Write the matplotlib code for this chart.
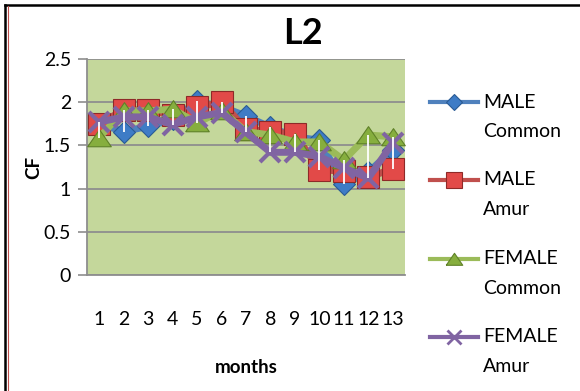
import matplotlib.pyplot as plt
from matplotlib.lines import Line2D
import numpy as np

plt.rcParams['font.family'] = ['Lato', 'DejaVu Sans']

# values
months = list(range(1, 14))
male_common = [1.75, 1.66, 1.72, 1.80, 2.01, 1.95, 1.84, 1.71, 1.60, 1.56, 1.05, 1.19, 1.45]
male_amur = [1.75, 1.91, 1.91, 1.85, 1.94, 2.00, 1.69, 1.66, 1.63, 1.22, 1.20, 1.13, 1.23]
female_common = [1.59, 1.90, 1.90, 1.92, 1.76, 1.90, 1.66, 1.62, 1.54, 1.54, 1.33, 1.62, 1.60]
female_amur = [1.77, 1.83, 1.83, 1.74, 1.83, 1.88, 1.65, 1.42, 1.42, 1.37, 1.24, 1.12, 1.53]

labels = [('MALE', 'Common'), ('MALE', 'Amur'), ('FEMALE', 'Common'), ('FEMALE', 'Amur')]
yticks = [0, 0.5, 1, 1.5, 2, 2.5]
ytick_labels = ['0', '0.5', '1', '1.5', '2', '2.5']

tri = [(-1, -0.7), (1, -0.7), (0, 0.75), (-1, -0.7)]
styles = [
    dict(color='#4F81BD', marker='D', ms=11, mfc='#3E7CC6', mec='#2A5B94', mew=0.8),
    dict(color='#C0504D', marker='s', ms=16, mfc='#E24A48', mec='#8E2A28', mew=0.8),
    dict(color='#9BBB59', marker=tri, ms=17, mfc='#86AE3E', mec='#5F8128', mew=0.8),
    dict(color='#8064A2', marker='x', ms=15, mfc='#8064A2', mec='#8064A2', mew=3),
]
series = [male_common, male_amur, female_common, female_amur]

fig = plt.figure(figsize=(5.8, 3.91), dpi=100)
ax = fig.add_axes([87 / 580, 1 - 275 / 391, (405 - 87) / 580, (275 - 59) / 391])
ax.set_facecolor('#C4D79B')

for i, (vals, st) in enumerate(zip(series, styles)):
    ax.plot(months, vals, lw=5, solid_capstyle='round', zorder=3 + i, **st)

# white high-low lines
data = np.array(series)
ax.vlines(months, data.min(axis=0), data.max(axis=0), color='white', lw=1.3, zorder=10)

ax.set_xlim(0.5, 13.5)
ax.set_ylim(0, 2.5)
ax.set_yticks(yticks)
ax.set_yticklabels(ytick_labels)
ax.set_xticks(months)
ax.set_xticklabels([str(m) for m in months])
ax.yaxis.grid(True, color='#8E8E8E', lw=1.3)
ax.set_axisbelow(True)
ax.tick_params(axis='y', length=6.5, width=1.2, color='#8E8E8E', labelsize=14, pad=5)
ax.tick_params(axis='x', length=0, labelsize=14, pad=26)
for s in ['top', 'right']:
    ax.spines[s].set_visible(False)
for s in ['left', 'bottom']:
    ax.spines[s].set_color('#8E8E8E')
    ax.spines[s].set_linewidth(1.3)

ax.set_xlabel('months', fontsize=13.5, fontweight='bold', labelpad=22)
ax.set_ylabel('CF', fontsize=13.5, fontweight='bold', labelpad=1)
fig.text(303 / 580, 1 - 34 / 391, 'L2', fontsize=26, fontweight='bold', ha='center', va='center')

# legend, handle next to the first line of each label
leg_y = [102, 180, 259, 337]
for (l1, l2), st, y in zip(labels, styles, leg_y):
    mk = {k: v for k, v in st.items() if k != 'color'}
    mk['ms'] = st['ms'] * 0.7
    if st['marker'] == 'x':
        mk['mew'] = 2
    yf = 1 - y / 391
    fig.add_artist(Line2D([430 / 580, 478 / 580], [yf, yf], lw=3,
                          color=st['color'], transform=fig.transFigure))
    fig.add_artist(Line2D([454 / 580], [yf], lw=0, transform=fig.transFigure, **mk))
    fig.text(483 / 580, yf, l1, fontsize=14, va='center', ha='left')
    fig.text(483 / 580, 1 - (y + 29.5) / 391, l2, fontsize=14, va='center', ha='left')

# outer border
fig.add_artist(Line2D([5 / 580, 1], [1 - 5 / 391] * 2, color='black', lw=1.8, transform=fig.transFigure))
fig.add_artist(Line2D([5 / 580] * 2, [0, 1 - 5 / 391], color='black', lw=1.8, transform=fig.transFigure))
fig.add_artist(Line2D([7.5 / 580] * 2, [0, 1 - 6 / 391], color='#C0504D', lw=0.8, transform=fig.transFigure))

fig.savefig('out.png', dpi=100)
